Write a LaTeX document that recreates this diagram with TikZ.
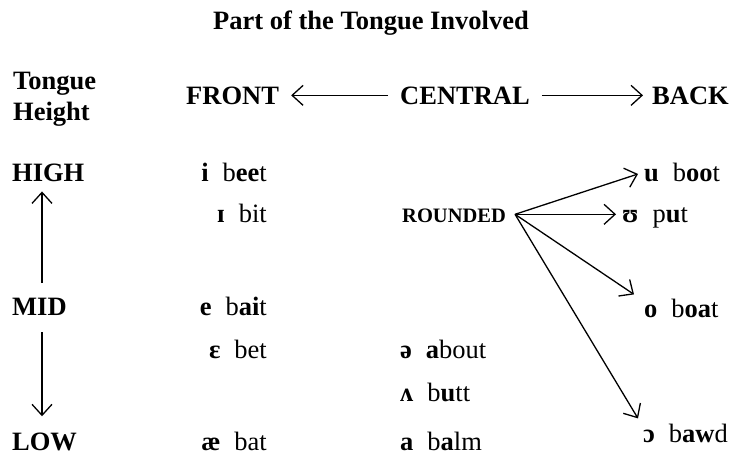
\documentclass[tikz,border=0pt]{standalone}
\usepackage{fontspec}
\setmainfont{Liberation Serif}
\usetikzlibrary{arrows.meta}
\tikzset{
  head/.style={font=\fontsize{26.5}{28}\selectfont\bfseries, inner sep=0pt},
  entry/.style={font=\fontsize{26.5}{28}\selectfont, inner sep=0pt},
  small/.style={font=\fontsize{20.5}{22}\selectfont\bfseries, inner sep=0pt},
  arr/.style={line width=1.3pt, -{Straight Barb[length=11pt,width=20pt,line width=1.3pt]}},
}
\newcommand{\sym}[1]{\textbf{#1}\hspace{14pt}}
\begin{document}
\begin{tikzpicture}[x=1pt,y=-1pt]
\useasboundingbox (0,0) rectangle (733,461);
% title
\node[head, anchor=base] (title) at (371,29) {Part of the Tongue Involved};
% column headings
\node[head, anchor=base west] (tongue) at (13,89) {Tongue};
\node[head, anchor=base west] (height) at (13,120) {Height};
\node[head, anchor=base west] (front) at (186,104) {FRONT};
\node[head, anchor=base west] (central) at (400,104) {CENTRAL};
\node[head, anchor=base west] (back) at (652,104) {BACK};
\draw[arr] ([xshift=-12pt]central.west) coordinate (cl) -- ([xshift=12pt]front.east);
\draw[arr] ([xshift=12pt]central.east) coordinate (cr) -- ([xshift=-9pt]back.west);
% heights
\node[head, anchor=base west] (high) at (12,181) {HIGH};
\node[head, anchor=base west] (mid) at (12,315) {MID};
\node[head, anchor=base west] (low) at (12,450) {LOW};
\coordinate (hm) at (42,283);
\coordinate (ml) at (42,332);
\draw[arr] (hm) -- ([yshift=-10pt]high.south -| hm);
\draw[arr] (ml) -- ([yshift=16pt]low.north -| ml);
% front vowels
\node[entry, anchor=base east] (i) at (267,181) {\sym{i}b\textbf{ee}t};
\node[entry, anchor=base east] (I) at (267,222) {\sym{ɪ}bit};
\node[entry, anchor=base east] (e) at (267,315) {\sym{e}b\textbf{ai}t};
\node[entry, anchor=base east] (E) at (267,358) {\sym{ɛ}bet};
\node[entry, anchor=base east] (ae) at (267,450) {\sym{æ}bat};
% central vowels
\node[small, anchor=base west] (rounded) at (402,222) {ROUNDED};
\node[entry, anchor=base west] (schwa) at (400,358) {\sym{ə}\textbf{a}bout};
\node[entry, anchor=base west] (wedge) at (400,401) {\sym{ʌ}b\textbf{u}tt};
\node[entry, anchor=base west] (a) at (400,450) {\sym{a}b\textbf{a}lm};
% back vowels
\node[entry, anchor=base west] (u) at (644,181) {\sym{u}b\textbf{oo}t};
\node[entry, anchor=base west] (U) at (622,222) {\sym{ʊ}p\textbf{u}t};
\node[entry, anchor=base west] (o) at (644,317) {\sym{o}b\textbf{oa}t};
\node[entry, anchor=base west] (O) at (643,442) {\sym{ɔ}b\textbf{aw}d};
% rounding arrows (shifts are in page units: positive yshift goes up)
\coordinate (r) at ([xshift=9pt,yshift=1pt]rounded.east);
\coordinate (tu) at ([xshift=-6pt,yshift=-2pt]u.west);
\coordinate (tU) at ([xshift=-6pt]U.west |- r);
\coordinate (to) at ([xshift=-10pt,yshift=4pt]o.north west);
\coordinate (tO) at ([xshift=-5pt,yshift=5pt]O.north west);
\draw[arr] (r) -- (tu);
\draw[arr] (r) -- (tU);
\draw[arr] (r) -- (to);
\draw[arr] (r) -- (tO);
\end{tikzpicture}
\end{document}
